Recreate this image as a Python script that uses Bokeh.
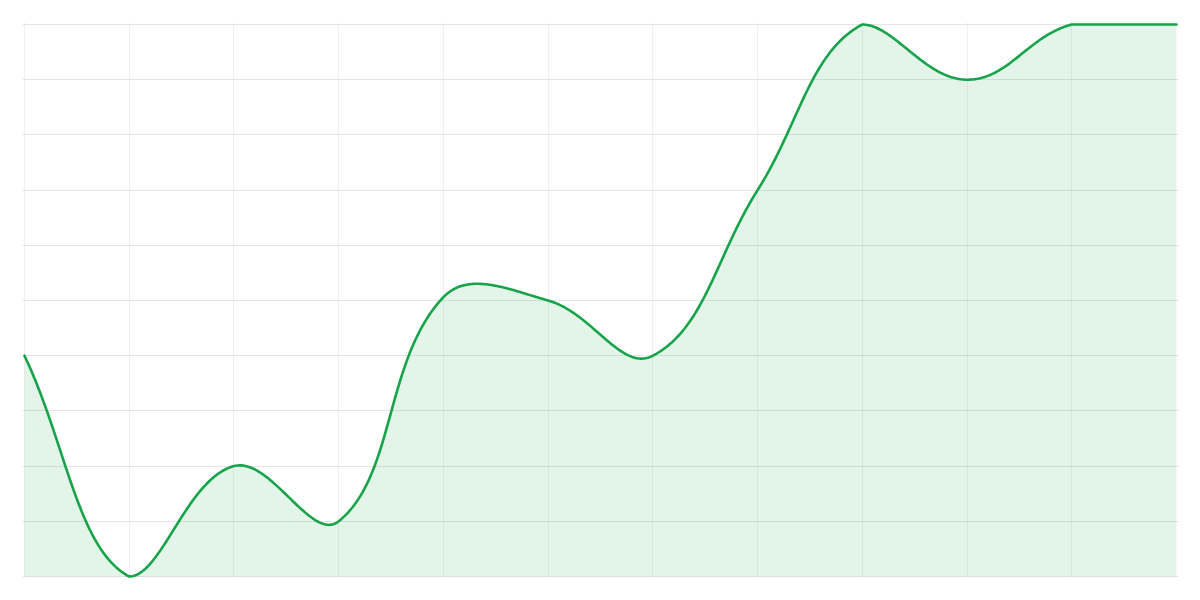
import numpy as np
from bokeh.plotting import figure
from bokeh.models import FixedTicker, ColumnDataSource
from bokeh.embed import file_html
from bokeh.resources import INLINE

# Data
x_index = list(range(12))
values = [4.0, 0.0, 2.0, 1.0, 5.06, 5.0, 4.0, 7.0, 10.0, 9.0, 10.0, 10.0]

X_MIN, X_MAX = 0, 11
Y_MIN, Y_MAX = 0, 10
FRAME_W, FRAME_H = 1152, 552
TENSION = 0.4
PAD = 2  # px of extra room so the stroke at the chart edges is not clipped

sx = FRAME_W / (X_MAX - X_MIN)
sy = FRAME_H / (Y_MAX - Y_MIN)

# Chart.js-style spline (tension, capped control points), computed in screen scale
px = np.array(x_index, float) * sx
py = np.array(values, float) * sy
n = len(px)
cp_prev = np.zeros((n, 2))
cp_next = np.zeros((n, 2))
for i in range(n):
    pi = max(i - 1, 0)
    ni = min(i + 1, n - 1)
    prev = np.array([px[pi], py[pi]])
    cur = np.array([px[i], py[i]])
    nxt = np.array([px[ni], py[ni]])
    d01 = np.hypot(*(cur - prev))
    d12 = np.hypot(*(nxt - cur))
    tot = d01 + d12
    s01 = d01 / tot if tot else 0.0
    s12 = d12 / tot if tot else 0.0
    fa = TENSION * s01
    fb = TENSION * s12
    cp_prev[i] = cur - fa * (nxt - prev)
    cp_next[i] = cur + fb * (nxt - prev)

def cap(p):
    return np.array([min(max(p[0], 0), FRAME_W), min(max(p[1], 0), FRAME_H)])

for i in range(n):
    cp_prev[i] = cap(cp_prev[i])
    cp_next[i] = cap(cp_next[i])

xs, ys = [], []
t = np.linspace(0, 1, 60)
for i in range(n - 1):
    p0 = np.array([px[i], py[i]])
    p1 = cp_next[i]
    p2 = cp_prev[i + 1]
    p3 = np.array([px[i + 1], py[i + 1]])
    tt = t if i == 0 else t[1:]
    b = ((1 - tt) ** 3)[:, None] * p0 + (3 * (1 - tt) ** 2 * tt)[:, None] * p1 \
        + (3 * (1 - tt) * tt ** 2)[:, None] * p2 + (tt ** 3)[:, None] * p3
    xs.extend(b[:, 0] / sx)
    ys.extend(b[:, 1] / sy)

src = ColumnDataSource(dict(x=xs, y=ys))

p = figure(width=1184, height=584,
           x_range=(X_MIN - PAD / sx, X_MAX + PAD / sx),
           y_range=(Y_MIN - PAD / sy, Y_MAX + PAD / sy),
           output_backend="svg", toolbar_location=None,
           min_border_left=24 - PAD, min_border_right=8 - PAD,
           min_border_top=24 - PAD, min_border_bottom=8 - PAD)
p.outline_line_color = None
p.background_fill_color = "white"
p.border_fill_color = "white"

p.xaxis.visible = False
p.yaxis.visible = False
p.xgrid.ticker = FixedTicker(ticks=list(range(0, 11)))
p.ygrid.ticker = FixedTicker(ticks=list(range(0, 11)))
p.xgrid.grid_line_color = "#efefef"
p.ygrid.grid_line_color = "#e5e5e5"
p.xgrid.grid_line_width = 1
p.ygrid.grid_line_width = 1

p.varea(x="x", y1=0, y2="y", source=src, fill_color="#16a34a", fill_alpha=0.12)
p.line(x="x", y="y", source=src, line_color="#16a34a", line_width=2.6,
       line_join="round", line_cap="round")

open("out.html", "w").write(file_html(p, INLINE))
